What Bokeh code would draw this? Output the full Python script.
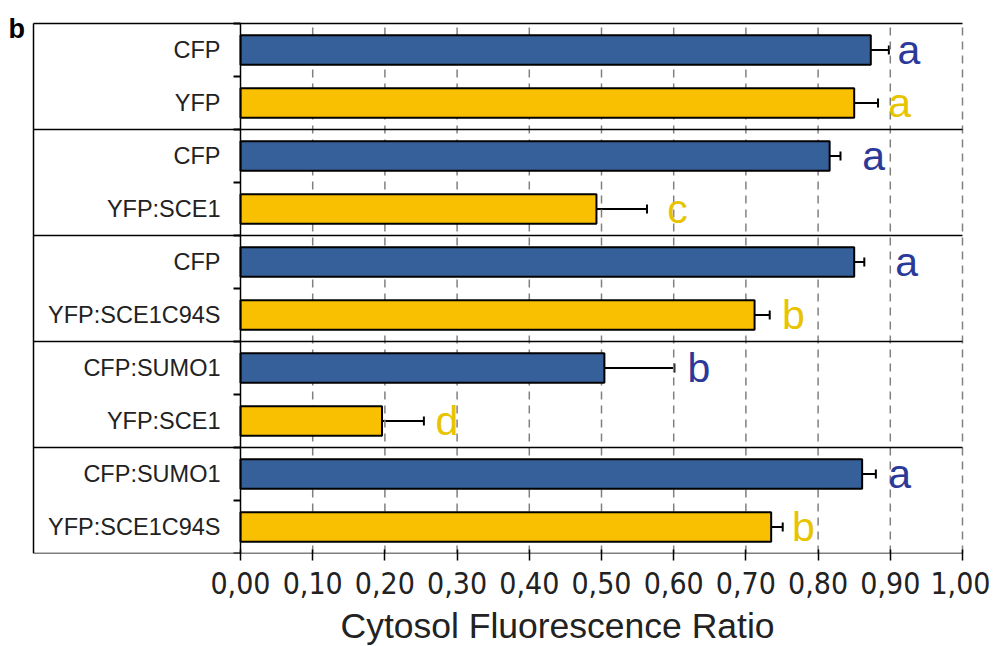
from bokeh.plotting import figure
from bokeh.models import ColumnDataSource, FixedTicker, Whisker, TeeHead, Title, Range1d
from bokeh.core.properties import value
from bokeh.embed import file_html
from bokeh.resources import INLINE

# ---- data ----
categories = ["CFP", "YFP", "CFP", "YFP:SCE1", "CFP", "YFP:SCE1C94S",
              "CFP:SUMO1", "YFP:SCE1", "CFP:SUMO1", "YFP:SCE1C94S"]
series = ["CFP", "YFP", "CFP", "YFP", "CFP", "YFP", "CFP", "YFP", "CFP", "YFP"]
means = [0.873, 0.850, 0.816, 0.493, 0.850, 0.712, 0.504, 0.196, 0.861, 0.735]
errors = [0.025, 0.033, 0.015, 0.070, 0.014, 0.021, 0.097, 0.058, 0.019, 0.016]
letters = ["a", "a", "a", "c", "a", "b", "b", "d", "a", "b"]
letter_x = [0.910, 0.897, 0.861, 0.591, 0.907, 0.750, 0.619, 0.270, 0.897, 0.764]
x_ticks = [0.0, 0.1, 0.2, 0.3, 0.4, 0.5, 0.6, 0.7, 0.8, 0.9, 1.0]
x_tick_labels = ["0,00", "0,10", "0,20", "0,30", "0,40", "0,50",
                 "0,60", "0,70", "0,80", "0,90", "1,00"]
group_size = 2

bar_colors = {"CFP": "#36609A", "YFP": "#F8C000"}
letter_colors = {"CFP": "#2B3A98", "YFP": "#E8C400"}

n = len(categories)
ypos = [n - 0.5 - i for i in range(n)]
src = ColumnDataSource(dict(
    y=ypos, cat=categories, mean=means,
    lower=[m - e for m, e in zip(means, errors)],
    upper=[m + e for m, e in zip(means, errors)],
    color=[bar_colors[s] for s in series],
    lcolor=[letter_colors[s] for s in series],
    letter=letters, lx=letter_x,
))

# ---- geometry (pixels) ----
px_per_x = 722.0          # pixels per 1.0 on the x scale
px_per_y = 53.0           # pixels per bar slot
panel_px = 207            # width of the label panel
margin_px = 25            # room left of the panel for the panel letter
top_px = 13               # room above the panel for the panel letter
right_px = 3

panel_left = -panel_px / px_per_x
x_start = -(panel_px + margin_px) / px_per_x
x_end = x_ticks[-1] + right_px / px_per_x
y_top = n + top_px / px_per_y

p = figure(frame_width=int(round((x_end - x_start) * px_per_x)),
           frame_height=int(round(y_top * px_per_y)),
           x_range=Range1d(x_start, x_end), y_range=Range1d(0, y_top),
           output_backend="svg", toolbar_location=None,
           y_axis_location=None,
           min_border_left=8, min_border_right=25, min_border_top=10, min_border_bottom=0)
p.outline_line_color = None
p.ygrid.grid_line_color = None
p.xgrid.grid_line_color = None

ticker = FixedTicker(ticks=x_ticks)
ax = p.xaxis[0]
ax.ticker = ticker
ax.major_label_overrides = {t: l for t, l in zip(x_ticks, x_tick_labels)}
ax.minor_tick_line_color = None
ax.major_tick_in = 4
ax.major_tick_out = 7
ax.major_tick_line_width = 1.5
ax.axis_line_color = None
ax.major_tick_line_color = "black"
ax.major_label_standoff = 11
ax.major_label_text_font = "Liberation Sans Narrow, DejaVu Sans Condensed, Liberation Sans"
ax.major_label_text_font_size = "30px"
ax.major_label_text_color = "#222222"

# dashed vertical grid lines (plot area only)
gx = x_ticks[1:]
p.segment(x0=gx, x1=gx, y0=[0] * len(gx), y1=[n] * len(gx),
          line_color="#808080", line_dash="8 6", line_width=1.5)

# bars
p.hbar(y="y", left=0, right="mean", height=0.56, fill_color="color",
       line_color="black", line_width=2, source=src)

# error bars
p.add_layout(Whisker(source=src, base="y", lower="lower", upper="upper", dimension="width",
                     line_color="black", line_width=2,
                     upper_head=TeeHead(size=9, line_width=2, line_color="black"),
                     lower_head=TeeHead(size=9, line_width=2, line_color="black")))

# significance letters
p.text(x="lx", y="y", text="letter", text_color="lcolor", source=src,
       text_font=value("Liberation Sans"), text_font_size="41px",
       text_align="left", text_baseline="middle")

# category labels in left panel
p.text(x=0, y="y", text="cat", source=src, x_offset=-20,
       text_font=value("Liberation Sans"), text_font_size="23.5px", text_color="#222222",
       text_align="right", text_baseline="middle")

# panel frame lines: vertical at panel left and at x=0, horizontals at group boundaries
p.segment(x0=[panel_left, 0], x1=[panel_left, 0], y0=[0, 0], y1=[n, n],
          line_color="black", line_width=1.5)
hy = list(range(0, n + 1, group_size))
p.segment(x0=[panel_left] * len(hy), x1=[x_ticks[-1]] * len(hy), y0=hy, y1=hy,
          line_color="black", line_width=1.5)

# left ticks at boundaries between bars
tick_len = 7 / px_per_x
tys = list(range(0, n + 1))
p.segment(x0=[-tick_len] * len(tys), x1=[0] * len(tys), y0=tys, y1=tys,
          line_color="black", line_width=2)

# panel letter
p.text(x=[x_start], y=[n], text=["b"], text_font=value("Liberation Sans"),
       text_font_style="bold", text_font_size="27px", text_color="black",
       text_align="left", text_baseline="alphabetic", y_offset=5)

# axis title
p.add_layout(Title(text="Cytosol Fluorescence Ratio", align="left",
                   offset=(panel_px + margin_px) + 100,
                   text_font="Liberation Sans", text_font_style="normal",
                   text_font_size="35.5px", text_color="#222222", standoff=14), "below")

open("out.html", "w").write(file_html(p, INLINE))
